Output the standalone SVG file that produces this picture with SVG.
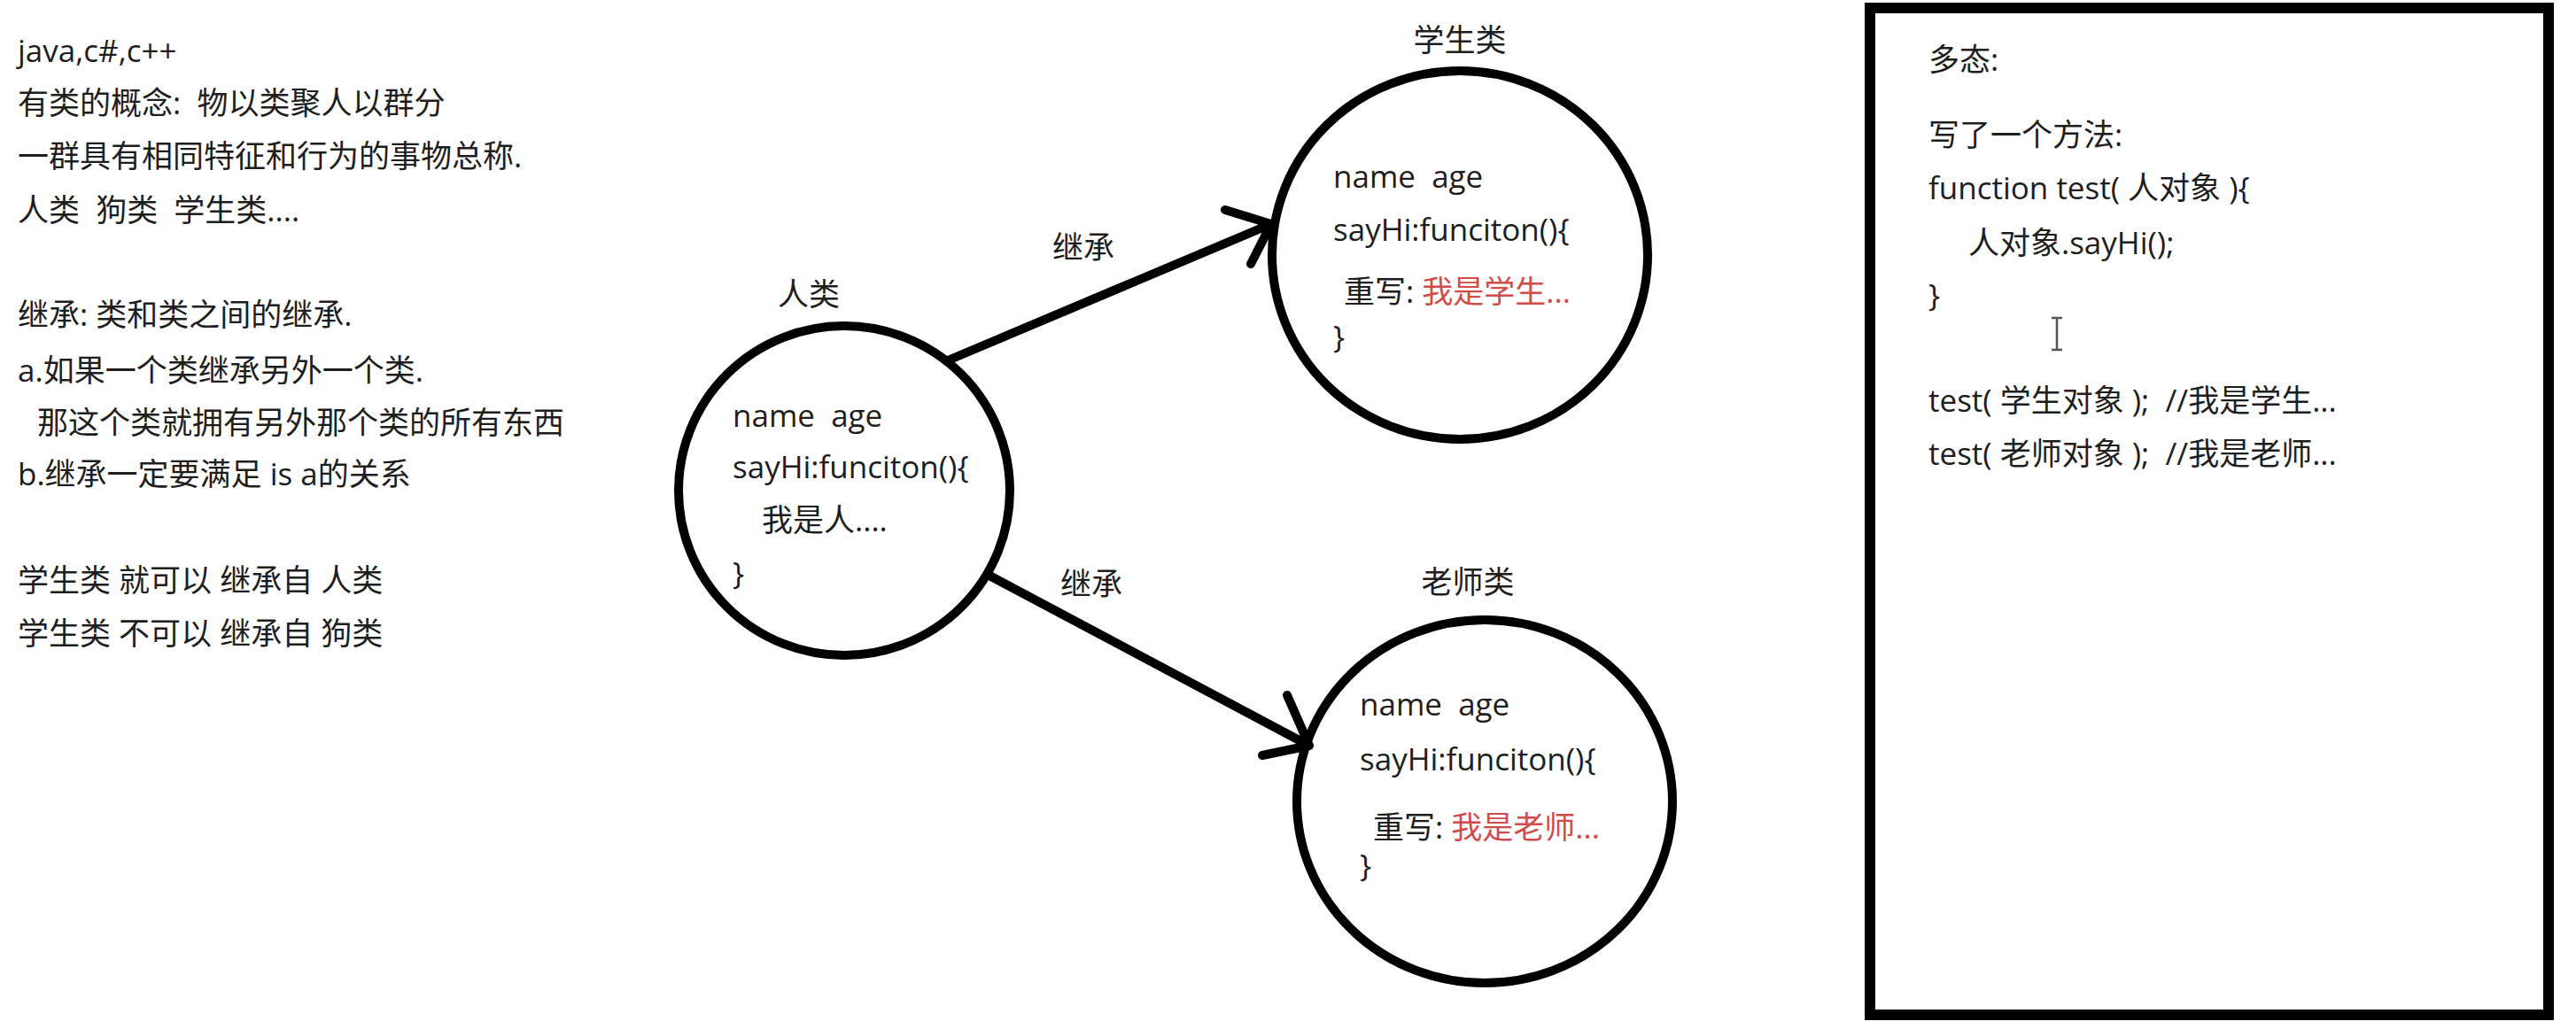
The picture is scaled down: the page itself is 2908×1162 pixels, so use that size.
<svg xmlns="http://www.w3.org/2000/svg" width="2908" height="1162" viewBox="0 0 2908 1162" xml:space="preserve">
<style>
  text { font-family: "Open Sans", "Noto Sans CJK SC", sans-serif; font-size: 35px; fill: #1e1e1e; white-space: pre; }
  .lbl { text-anchor: middle; }
  .red { fill: #d24b4b; }
  .ring { fill: none; stroke: #000; stroke-width: 10; }
  .edge { fill: none; stroke: #000; stroke-width: 10; stroke-linecap: round; stroke-linejoin: round; }
  .frame { fill: none; stroke: #000; stroke-width: 12; }
</style>
<rect width="2908" height="1162" fill="#fff"/>

<g id="notes">
  <text x="20" y="70">java,c#,c++</text>
  <text x="20" y="129">有类的概念:  物以类聚人以群分</text>
  <text x="20" y="189">一群具有相同特征和行为的事物总称.</text>
  <text x="20" y="250">人类  狗类  学生类....</text>
  <text x="20" y="368">继承: 类和类之间的继承.</text>
  <text x="20" y="431">a.如果一个类继承另外一个类.</text>
  <text x="42" y="490">那这个类就拥有另外那个类的所有东西</text>
  <text x="20" y="548">b.继承一定要满足 is a的关系</text>
  <text x="20" y="668">学生类 就可以 继承自 人类</text>
  <text x="20" y="728">学生类 不可以 继承自 狗类</text>
</g>

<g id="connectors">
  <g id="edge-ren-xuesheng">
    <path class="edge" d="M1070,407 L1435,253 M1383,237 L1435,253 L1412,298"/>
    <text x="1188" y="292">继承</text>
  </g>
  <g id="edge-ren-laoshi">
    <path class="edge" d="M1117,650 L1478,842 M1453,785 L1478,842 L1425,853"/>
    <text x="1197" y="672">继承</text>
  </g>
</g>

<g id="node-renlei">
  <ellipse class="ring" cx="953" cy="554" rx="187" ry="186"/>
  <text class="lbl" x="913" y="345">人类</text>
  <text x="827" y="482">name  age</text>
  <text x="827" y="540">sayHi:funciton(){</text>
  <text x="860" y="600">我是人....</text>
  <text x="827" y="660">}</text>
</g>

<g id="node-xuesheng">
  <ellipse class="ring" cx="1648" cy="288" rx="212" ry="208"/>
  <text class="lbl" x="1648" y="58">学生类</text>
  <text x="1505" y="212">name  age</text>
  <text x="1505" y="272">sayHi:funciton(){</text>
  <text x="1517" y="342">重写: <tspan class="red">我是学生...</tspan></text>
  <text x="1505" y="393">}</text>
</g>

<g id="node-laoshi">
  <ellipse class="ring" cx="1676" cy="905" rx="212" ry="205"/>
  <text class="lbl" x="1657" y="670">老师类</text>
  <text x="1535" y="808">name  age</text>
  <text x="1535" y="870">sayHi:funciton(){</text>
  <text x="1550" y="947">重写: <tspan class="red">我是老师...</tspan></text>
  <text x="1535" y="990">}</text>
</g>

<g id="panel-polymorphism">
  <rect class="frame" x="2111" y="9" width="766" height="1137"/>
  <text x="2177" y="80">多态:</text>
  <text x="2177" y="165">写了一个方法:</text>
  <text x="2177" y="225">function test( 人对象 ){</text>
  <text x="2222" y="287">人对象.sayHi();</text>
  <text x="2177" y="346">}</text>
  <path d="M2316,359 H2328 M2322,359 V395 M2316,395 H2328" fill="none" stroke="#555" stroke-width="2.5"/>
  <text x="2177" y="465">test( 学生对象 );  //我是学生...</text>
  <text x="2177" y="525">test( 老师对象 );  //我是老师...</text>
</g>
</svg>
